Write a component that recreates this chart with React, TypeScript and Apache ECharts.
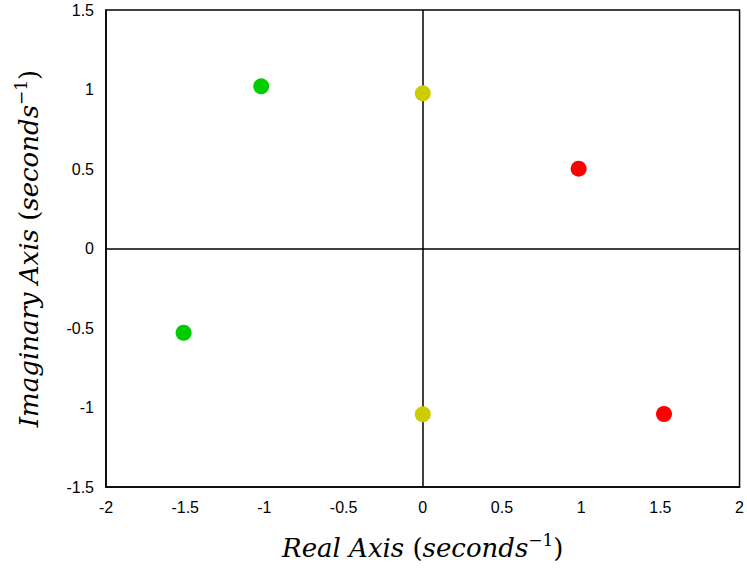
import React, { useEffect, useRef } from "react";
import * as echarts from "echarts";

const greenPoles: [number, number][] = [[-1.02, 1.02], [-1.51, -0.53]];
const yellowPoles: [number, number][] = [[0, 0.976], [0, -1.043]];
const redPoles: [number, number][] = [[0.984, 0.502], [1.523, -1.041]];
const xTicks = [-2, -1.5, -1, -0.5, 0, 0.5, 1, 1.5, 2];
const yTicks = [-1.5, -1, -0.5, 0, 0.5, 1, 1.5];

const serif = "DejaVu Serif";
const titleRich = {
  i: { fontFamily: serif, fontStyle: "italic", fontSize: 26, color: "#000", lineHeight: 34 },
  p: { fontFamily: serif, fontStyle: "normal", fontSize: 26, color: "#000", lineHeight: 34 },
  sup: { fontFamily: serif, fontStyle: "normal", fontSize: 17, color: "#000", lineHeight: 34, verticalAlign: "top", padding: [0, 0, 11, 0] },
};

export default function App() {
  const ref = useRef<HTMLDivElement>(null);
  useEffect(() => {
    const chart = echarts.init(ref.current!, null, { renderer: "svg" });
    const labelStyle = { fontFamily: "Liberation Sans", fontSize: 16, color: "#000" };
    chart.setOption({
      animation: false,
      backgroundColor: "#fff",
      grid: { left: 106, top: 10, right: 6, bottom: 89, show: true, borderColor: "#000", borderWidth: 1.5, backgroundColor: "transparent" },
      xAxis: {
        type: "value", min: -2, max: 2, interval: 0.5,
        axisLine: { show: true, onZero: false, lineStyle: { color: "#000", width: 1.5 } },
        axisTick: { show: false },
        splitLine: { show: false },
        axisLabel: { ...labelStyle, margin: 12, formatter: (v: number) => (xTicks.includes(v) ? String(v) : "") },
        name: "{i|Real Axis }{p|(}{i|seconds}{sup|−1}{p|)}",
        nameLocation: "middle",
        nameGap: 44,
        nameTextStyle: { rich: titleRich },
      },
      yAxis: {
        type: "value", min: -1.5, max: 1.5, interval: 0.5,
        axisLine: { show: true, onZero: false, lineStyle: { color: "#000", width: 1.5 } },
        axisTick: { show: false },
        splitLine: { show: false },
        axisLabel: { ...labelStyle, margin: 12, formatter: (v: number) => (yTicks.includes(v) ? String(v) : "") },
        name: "{i|Imaginary Axis }{p|(}{i|seconds}{sup|−1}{p|)}",
        nameLocation: "middle",
        nameGap: 60,
        nameTextStyle: { rich: titleRich },
      },
      series: [
        {
          type: "scatter", data: greenPoles, symbolSize: 16, itemStyle: { color: "#00cc00", opacity: 1 }, z: 5,
          markLine: {
            silent: true, symbol: "none", label: { show: false },
            lineStyle: { color: "#000", width: 1.5, type: "solid" },
            data: [{ xAxis: 0 }, { yAxis: 0 }],
          },
        },
        { type: "scatter", data: yellowPoles, symbolSize: 16, itemStyle: { color: "#cccc00", opacity: 1 }, z: 5 },
        { type: "scatter", data: redPoles, symbolSize: 16, itemStyle: { color: "#ff0000", opacity: 1 }, z: 5 },
      ],
    });
    return () => chart.dispose();
  }, []);
  return <div ref={ref} style={{ position: "fixed", left: 0, top: 0, width: 747, height: 576 }} />;
}
